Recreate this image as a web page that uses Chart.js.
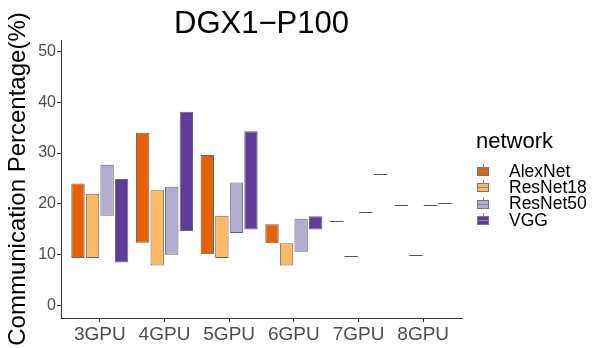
<!DOCTYPE html>
<html>
<head>
<meta charset="utf-8">
<script src="https://cdn.jsdelivr.net/npm/chart.js@4"></script>
<style>
  body { margin: 0; background: #fff; }
  #wrap { position: relative; width: 596px; height: 348px; font-family: "Liberation Sans", Arial, sans-serif; }
  #title { position: absolute; left: 61px; width: 401px; top: 7px; text-align: center; font-size: 31px; line-height: 31px; color: #000; }
  #legend { position: absolute; left: 0; top: 0; width: 596px; height: 348px; color: #000; }
  #legend .lt { position: absolute; left: 476px; top: 130px; font-size: 22px; line-height: 22px; }
  #legend .lab { position: absolute; left: 509px; font-size: 17.5px; line-height: 16px; white-space: nowrap; }
  #legend .key { position: absolute; left: 477px; width: 10px; height: 7px; border: 1px solid #777; }
  #legend .key:before { content: ""; position: absolute; left: 4.5px; top: -4px; height: 3px; border-left: 1px solid #888; }
  #legend .key:after { content: ""; position: absolute; left: 0; right: 0; top: 3px; border-top: 1px solid #888; }
</style>
</head>
<body>
<div id="wrap">
  <canvas id="myChart" width="596" height="348"></canvas>
  <div id="title">DGX1&#8722;P100</div>
  <div id="legend"></div>
</div>
<script>
var categories = ["3GPU", "4GPU", "5GPU", "6GPU", "7GPU", "8GPU"];
var networks = ["AlexNet", "ResNet18", "ResNet50", "VGG"];
var colors = ["#e66101", "#fdb863", "#b2abd2", "#5e3c99"];

// [low, high] percentage per GPU count
var alexnet = [[9.4, 24.0], [12.4, 34.0], [10.1, 29.6], [12.3, 16.0], [16.7, 16.7], [19.8, 19.8]];
var resnet18 = [[9.4, 22.0], [7.9, 22.7], [9.4, 17.7], [7.9, 12.3], [9.7, 9.7], [10.0, 10.0]];
var resnet50 = [[17.7, 27.7], [10.0, 23.4], [14.3, 24.2], [10.6, 17.1], [18.5, 18.5], [19.8, 19.8]];
var vgg = [[8.5, 24.9], [14.7, 38.1], [15.0, 34.3], [15.0, 17.6], [25.9, 25.9], [20.1, 20.1]];

var yTicks = [0, 10, 20, 30, 40, 50];
var series = [alexnet, resnet18, resnet50, vgg];

var ctx = document.getElementById("myChart").getContext("2d");

// boxes with no height are drawn as a flat line
var flatLines = {
  id: "flatLines",
  afterDatasetsDraw(chart) {
    var c = chart.ctx;
    c.save();
    c.strokeStyle = "#555";
    c.lineWidth = 1;
    chart.data.datasets.forEach((ds, di) => {
      var meta = chart.getDatasetMeta(di);
      meta.data.forEach((el, i) => {
        var v = ds.data[i].y;
        if (v[0] === v[1]) {
          var y = Math.round(el.y) + 0.5;
          c.beginPath();
          c.moveTo(el.x - el.width / 2, y);
          c.lineTo(el.x + el.width / 2, y);
          c.stroke();
        }
      });
    });
    c.restore();
  }
};

var myChart = new Chart(ctx, {
  type: "bar",
  plugins: [flatLines],
  data: {
    datasets: series.map((s, k) => ({
      label: networks[k],
      data: s.map((v, i) => ({ x: i + 1, y: v })),
      backgroundColor: colors[k],
      borderColor: "#666",
      borderWidth: 1,
      borderSkipped: false,
      inflateAmount: 0,
      categoryPercentage: 0.9,
      barPercentage: 0.92
    }))
  },
  options: {
    responsive: false,
    animation: false,
    layout: { padding: { top: 40, right: 134, left: 0, bottom: 0 } },
    plugins: {
      legend: { display: false },
      tooltip: { enabled: false }
    },
    scales: {
      x: {
        type: "linear",
        offset: false,
        min: 0.4,
        max: 6.6,
        afterBuildTicks: (s) => { s.ticks = categories.map((c, i) => ({ value: i + 1 })); },
        afterFit: (s) => { s.height = 30; },
        ticks: {
          callback: (v) => categories[v - 1],
          color: "#4d4d4d",
          font: { family: "Liberation Sans", size: 19 },
          padding: 1,
          maxRotation: 0,
          autoSkip: false
        },
        grid: { offset: false, drawOnChartArea: false, drawTicks: true, tickLength: 4, tickColor: "#333" },
        border: { display: true, color: "#333", width: 1 }
      },
      y: {
        min: -2.4,
        max: 52.2,
        afterBuildTicks: (s) => { s.ticks = yTicks.map((v) => ({ value: v })); },
        afterFit: (s) => { s.width = 61; },
        ticks: {
          color: "#4d4d4d",
          font: { family: "Liberation Sans", size: 16 },
          padding: 1
        },
        grid: { drawOnChartArea: false, drawTicks: true, tickLength: 4, tickColor: "#333" },
        border: { display: true, color: "#333", width: 1 },
        title: {
          display: true,
          text: "Communication Percentage(%)",
          color: "#000",
          font: { family: "Liberation Sans", size: 24 },
          padding: { top: 4, bottom: 0 }
        }
      }
    }
  }
});

var legend = document.getElementById("legend");
var html = '<div class="lt">network</div>';
networks.forEach((n, k) => {
  var top = 162.6 + k * 16.3;
  html += '<div class="key" style="top:' + (top + 4.5) + 'px;background:' + colors[k] + '"></div>';
  html += '<div class="lab" style="top:' + top + 'px">' + n + "</div>";
});
legend.innerHTML = html;
</script>
</body>
</html>
